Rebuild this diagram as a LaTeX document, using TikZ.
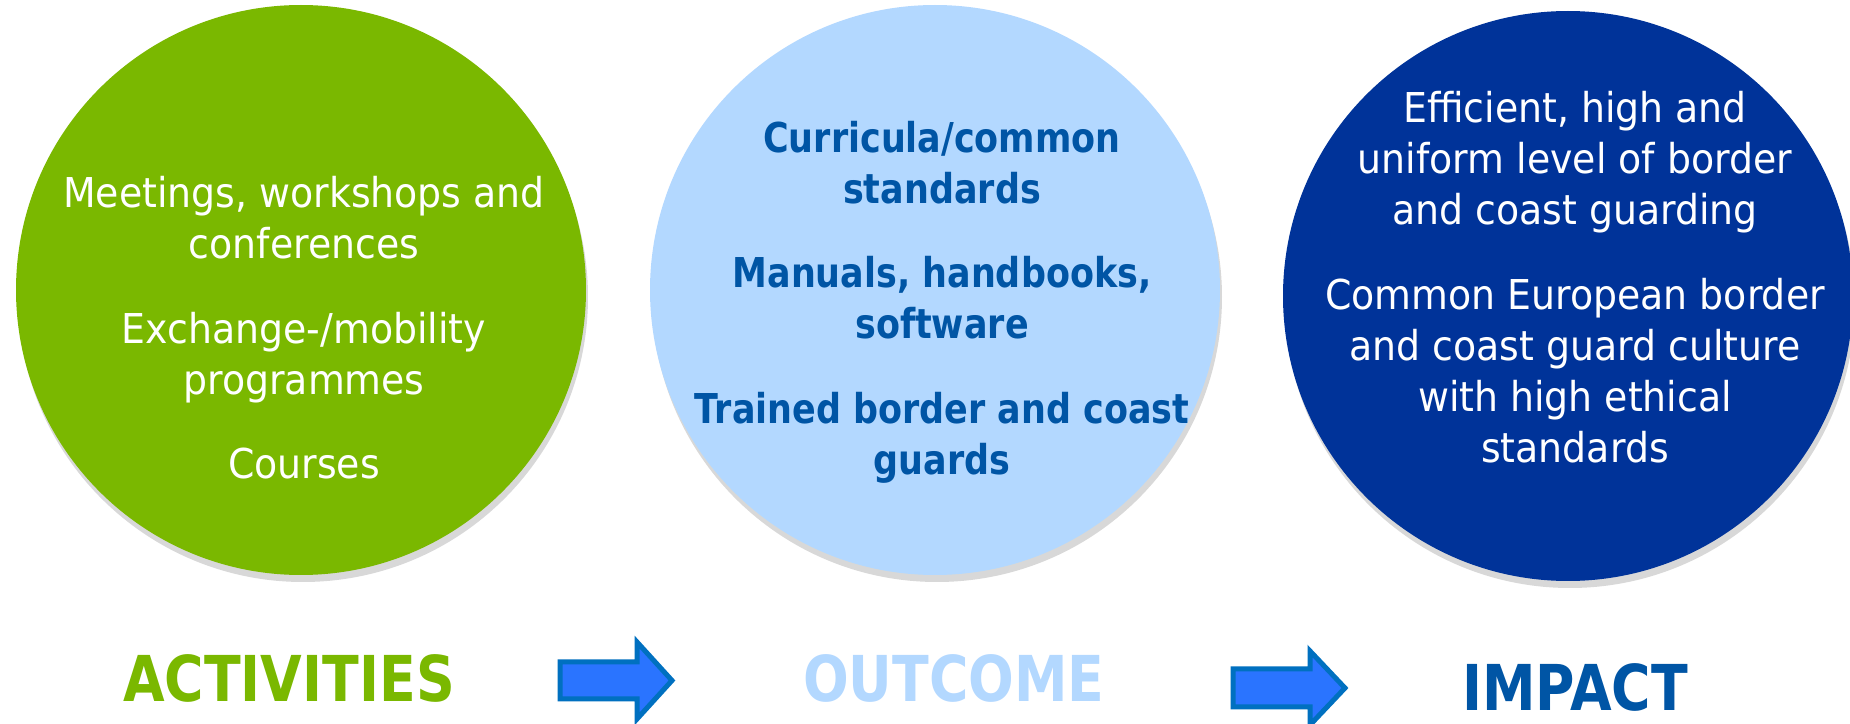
\documentclass[tikz,border=0pt]{standalone}
\usepackage{fontspec}
\setmainfont{DejaVu Sans}[UprightFeatures={FakeStretch=0.92},BoldFeatures={FakeStretch=0.85}]
\usepackage{tikz}
\usetikzlibrary{shadows}
\definecolor{FxGreen}{HTML}{7AB800}
\definecolor{FxLightBlue}{HTML}{B3D8FF}
\definecolor{FxNavy}{HTML}{003399}
\definecolor{FxBlue}{HTML}{0055A5}
\definecolor{FxArrowFill}{HTML}{2A74FF}
\definecolor{FxArrowLine}{HTML}{0070C0}
\tikzstyle{bubble} = [circle, minimum size=57mm, inner sep=0pt, drop shadow={shadow xshift=0.2mm, shadow yshift=-0.7mm, opacity=0.25, fill=black!60}]
\tikzstyle{bubbletext} = [align=center, inner sep=0pt, font=\fontsize{11.7}{14.5}\selectfont]
\tikzstyle{bubblebold} = [align=center, inner sep=0pt, font=\fontsize{11.7}{14.5}\selectfont\bfseries]
\tikzstyle{heading} = [anchor=base, inner sep=0pt, font=\fontsize{18}{20}\selectfont\bfseries]
\tikzstyle{blockarrow} = [fill=FxArrowFill, draw=FxArrowLine, line width=0.5mm, line join=miter]

\begin{document}
\begin{tikzpicture}[x=0.1mm, y=-0.1mm]

	\path[use as bounding box, fill=white] (0,0) rectangle (1850,724);

	% Circles
	\node[bubble, fill=FxGreen] (act) at (301,290) {};
	\node[bubble, fill=FxLightBlue] (out) at (935,290) {};
	\node[bubble, fill=FxNavy] (imp) at (1568,296) {};

	% Circle texts
	\node[bubbletext, text=white] (acttext) at (304,328)
		{Meetings, workshops and\\conferences\\[9.6pt]Exchange-/mobility\\programmes\\[9.6pt]Courses};
	\node[bubblebold, text=FxBlue] (outtext) at (942,302)
		{Curricula/common\\standards\\[9.6pt]Manuals, handbooks,\\software\\[9.6pt]Trained border and coast\\guards};
	\node[bubbletext, text=white] (imptext) at (1575,277)
		{Efficient, high and\\uniform level of border\\and coast guarding\\[9.6pt]Common European border\\and coast guard culture\\with high ethical\\standards};

	% Headings
	\node[heading, text=FxGreen] (actlabel) at (289,702) {ACTIVITIES};
	\node[heading, text=FxLightBlue] (outlabel) at (954,702) {OUTCOME};
	\node[heading, text=FxBlue] (implabel) at (1575,710) {IMPACT};

	% Block arrows
	\filldraw[blockarrow] (560,662) -- (637,662) -- (637,642) -- (672,680.5)
		-- (637,719) -- (637,699) -- (560,699) -- cycle;
	\filldraw[blockarrow] (1233,669) -- (1310,669) -- (1310,651) -- (1345,688)
		-- (1310,725) -- (1310,707) -- (1233,707) -- cycle;

\end{tikzpicture}
\end{document}
